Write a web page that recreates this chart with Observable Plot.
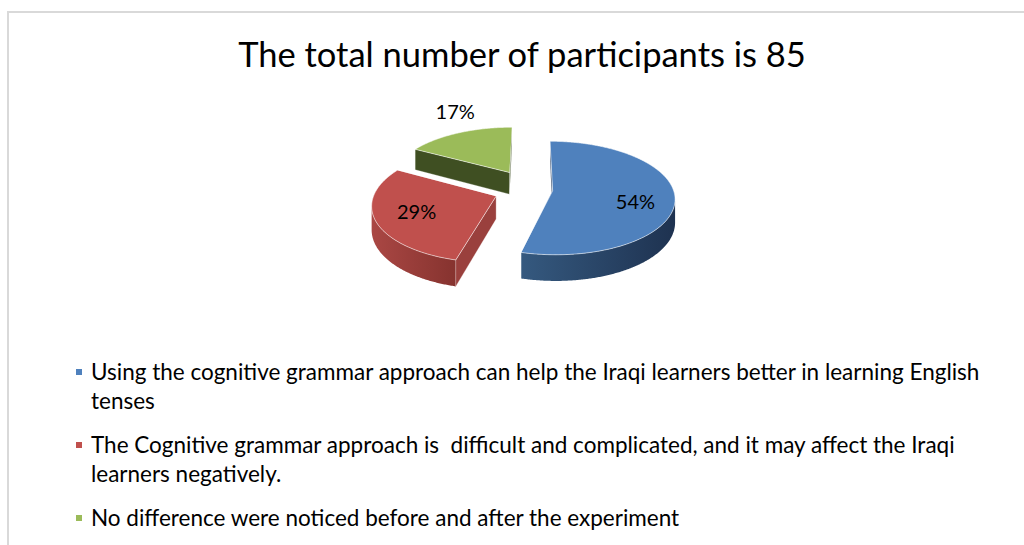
<!DOCTYPE html>
<html>
<head>
<meta charset="utf-8">
<script src="https://cdn.jsdelivr.net/npm/d3@7"></script>
<script src="https://cdn.jsdelivr.net/npm/@observablehq/plot@0.6"></script>
<style>
  html, body { margin: 0; padding: 0; background: #fff; overflow: hidden; width: 1024px; height: 545px; }
  body { position: relative; font-family: Lato, "Open Sans", sans-serif; color: #000; }
  #frame { position: absolute; left: 7px; top: 11px; width: 1040px; height: 560px;
           border-left: 2px solid #d9d9d9; border-top: 2px solid #d9d9d9; }
  #title { position: absolute; left: 0; top: 34px; width: 1044px; text-align: center;
           font-size: 34.5px; line-height: 40px; white-space: nowrap; }
  #chart { position: absolute; left: 0; top: 85px; }
  #legend { position: absolute; left: 76px; top: 357px; font-size: 22.5px; line-height: 29px; }
  .item { position: relative; padding-left: 15px; margin-bottom: 15px; white-space: pre; }
  .sw { position: absolute; left: 0; top: 12px; width: 6px; height: 6px; }
</style>
</head>
<body>
<div id="frame"></div>
<div id="title"></div>
<div id="chart"></div>
<div id="legend"></div>
<script>
// ---- data ----
const title = "The total number of participants is 85";
const categories = [
  "Using the cognitive grammar approach can help the Iraqi learners better in learning English\ntenses",
  "The Cognitive grammar approach is  difficult and complicated, and it may affect the Iraqi\nlearners negatively.",
  "No difference were noticed before and after the experiment"
];
const percents = [54, 29, 17];

// ---- style ----
const sliceColors = ["#4f81bd", "#c0504d", "#9bbb59"];
const sideColors = [["#35597f", "#1e3250"], ["#aa4744", "#86332f"], ["#44552a", "#3a4a20"]];
const faceColors = ["#22395a", "#9a403d", "#3f4f22"];
const explode = [0.18, 0.31, 0.365];
const labelRadius = [0.68, 0.67, 1.3];
const labelShift = [[0, 7], [0, 1], [10, -10]];

// ---- layout ----
const W = 1024, H = 260, CX = 530.5, CY = 103.7, RX = 120.6, RY = 55.4;
const PERSP = 0.133, DEPTH = 0.408;

const arcs = d3.pie().sort(null).value(d => d)(percents);

function proj(X, Z, h) {
  const s = 1 / (1 + PERSP * Z);
  return [X * s, (-Z + DEPTH * h) * s];
}
function pt(i, ang, r, h) {
  const a = arcs[i];
  const mid = (a.startAngle + a.endAngle) / 2;
  const ox = explode[i] * Math.sin(mid), oz = explode[i] * Math.cos(mid);
  return proj(ox + r * Math.sin(ang), oz + r * Math.cos(ang), h);
}
function signedArea(p) {
  let s = 0;
  for (let k = 0; k < p.length; k++) {
    const [x1, y1] = p[k], [x2, y2] = p[(k + 1) % p.length];
    s += x1 * y2 - x2 * y1;
  }
  return s / 2;
}
function midZ(i) {
  const a = arcs[i];
  return explode[i] * Math.cos((a.startAngle + a.endAngle) / 2);
}

// gradient definitions for the rims
const defsMark = () => {
  const ns = "http://www.w3.org/2000/svg";
  const defs = document.createElementNS(ns, "defs");
  sideColors.forEach((cs, i) => {
    const g = document.createElementNS(ns, "linearGradient");
    g.setAttribute("id", "rim" + i);
    g.setAttribute("x1", "0"); g.setAttribute("x2", "1");
    g.setAttribute("y1", "0"); g.setAttribute("y2", "0");
    cs.forEach((c, k) => {
      const st = document.createElementNS(ns, "stop");
      st.setAttribute("offset", k === 0 ? "0" : "1");
      st.setAttribute("stop-color", c);
      g.appendChild(st);
    });
    defs.appendChild(g);
  });
  return defs;
};

const order = d3.range(percents.length).sort((a, b) => midZ(b) - midZ(a));
const marks = [defsMark];
let fid = 0;

for (const i of order) {
  const a = arcs[i];
  const a0 = a.startAngle, a1 = a.endAngle;
  const n = Math.ceil((a1 - a0) / (Math.PI / 360));
  // visible rim runs
  const runs = [];
  let cur = null;
  for (let k = 0; k < n; k++) {
    const t0 = a0 + (a1 - a0) * k / n, t1 = a0 + (a1 - a0) * (k + 1) / n;
    const q = [pt(i, t0, 1, 0), pt(i, t0, 1, 1), pt(i, t1, 1, 1), pt(i, t1, 1, 0)];
    if (signedArea(q) > 0) {
      if (!cur) { cur = [t0, t1]; runs.push(cur); } else cur[1] = t1;
    } else cur = null;
  }
  const rimRows = [];
  for (const [r0, r1] of runs) {
    const id = fid++;
    const m = Math.max(2, Math.ceil((r1 - r0) / (Math.PI / 360)));
    for (let k = 0; k <= m; k++) {
      const p = pt(i, r0 + (r1 - r0) * k / m, 1, 0);
      rimRows.push({id, u: p[0], v: p[1]});
    }
    for (let k = m; k >= 0; k--) {
      const p = pt(i, r0 + (r1 - r0) * k / m, 1, 1);
      rimRows.push({id, u: p[0], v: p[1]});
    }
  }
  // radial faces
  const faceRows = [];
  const startFace = [pt(i, a0, 0, 0), pt(i, a0, 0, 1), pt(i, a0, 1, 1), pt(i, a0, 1, 0)];
  const endFace = [pt(i, a1, 0, 0), pt(i, a1, 1, 0), pt(i, a1, 1, 1), pt(i, a1, 0, 1)];
  for (const f of [startFace, endFace]) {
    if (signedArea(f) > 0) {
      const id = fid++;
      for (const p of f) faceRows.push({id, u: p[0], v: p[1]});
    }
  }
  // top face
  const topRows = [];
  const tid = fid++;
  const c0 = pt(i, a0, 0, 0);
  topRows.push({id: tid, u: c0[0], v: c0[1]});
  for (let k = 0; k <= n; k++) {
    const p = pt(i, a0 + (a1 - a0) * k / n, 1, 0);
    topRows.push({id: tid, u: p[0], v: p[1]});
  }
  if (rimRows.length) marks.push(Plot.line(rimRows, {x: "u", y: "v", z: "id", fill: `url(#rim${i})`,
    stroke: "none", curve: "linear-closed"}));
  if (faceRows.length) marks.push(Plot.line(faceRows, {x: "u", y: "v", z: "id", fill: faceColors[i],
    stroke: "#ffffff", strokeOpacity: 0.35, strokeWidth: 0.8, curve: "linear-closed"}));
  marks.push(Plot.line(topRows, {x: "u", y: "v", z: "id", fill: sliceColors[i], stroke: "#ffffff",
    strokeOpacity: 0.55, strokeWidth: 1, curve: "linear-closed"}));
}

const labelRows = arcs.map((a, i) => {
  const mid = (a.startAngle + a.endAngle) / 2;
  const p = pt(i, mid, labelRadius[i], 0);
  return {u: p[0] + labelShift[i][0] / RX, v: p[1] + labelShift[i][1] / RY, label: percents[i] + "%"};
});
marks.push(Plot.text(labelRows, {x: "u", y: "v", text: "label", fontSize: 20, fill: "#000"}));

const chart = Plot.plot({
  width: W, height: H,
  marginTop: 0, marginRight: 0, marginBottom: 0, marginLeft: 0,
  style: {background: "transparent", fontFamily: "Lato, 'Open Sans', sans-serif"},
  x: {type: "linear", domain: [-CX / RX, (W - CX) / RX], range: [0, W], axis: null},
  y: {type: "linear", domain: [-CY / RY, (H - CY) / RY], range: [0, H], axis: null},
  marks
});
document.getElementById("chart").appendChild(chart);

document.getElementById("title").textContent = title;
const legend = document.getElementById("legend");
categories.forEach((c, i) => {
  const item = document.createElement("div");
  item.className = "item";
  const sw = document.createElement("span");
  sw.className = "sw";
  sw.style.background = sliceColors[i];
  item.appendChild(sw);
  item.appendChild(document.createTextNode(c));
  legend.appendChild(item);
});
</script>
</body>
</html>
